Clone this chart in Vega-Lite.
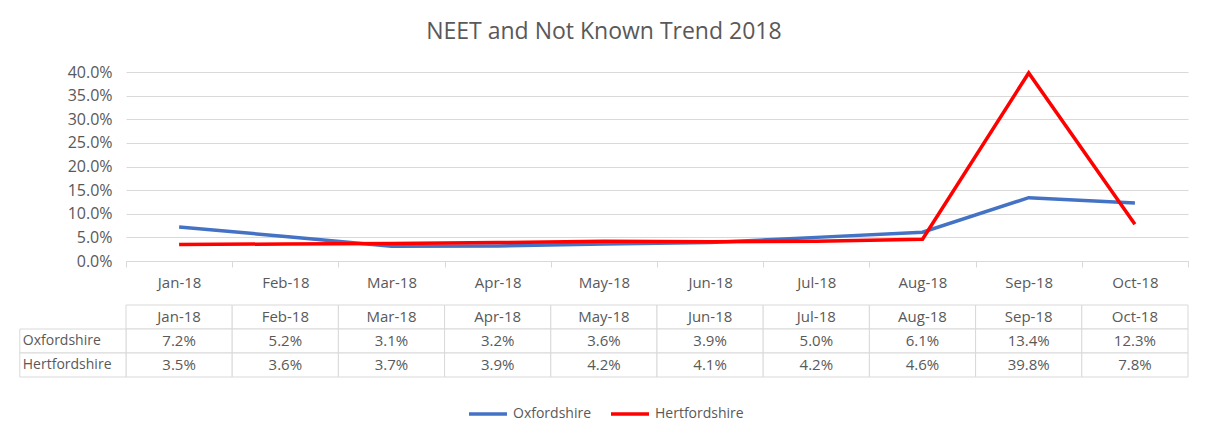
{
  "$schema": "https://vega.github.io/schema/vega-lite/v6.json",
  "padding": {"left": 19, "top": 21, "right": 15, "bottom": 10},
  "title": {"text": "NEET and Not Known Trend 2018", "fontSize": 23, "font": "Open Sans", "fontWeight": "normal", "color": "#595959", "anchor": "middle", "offset": 20},
  "datasets": {
    "trend": [
      {"month": "Jan-18", "series": "Oxfordshire", "value": 0.072},
      {"month": "Feb-18", "series": "Oxfordshire", "value": 0.052},
      {"month": "Mar-18", "series": "Oxfordshire", "value": 0.031},
      {"month": "Apr-18", "series": "Oxfordshire", "value": 0.032},
      {"month": "May-18", "series": "Oxfordshire", "value": 0.036},
      {"month": "Jun-18", "series": "Oxfordshire", "value": 0.039},
      {"month": "Jul-18", "series": "Oxfordshire", "value": 0.050},
      {"month": "Aug-18", "series": "Oxfordshire", "value": 0.061},
      {"month": "Sep-18", "series": "Oxfordshire", "value": 0.134},
      {"month": "Oct-18", "series": "Oxfordshire", "value": 0.123},
      {"month": "Jan-18", "series": "Hertfordshire", "value": 0.035},
      {"month": "Feb-18", "series": "Hertfordshire", "value": 0.036},
      {"month": "Mar-18", "series": "Hertfordshire", "value": 0.037},
      {"month": "Apr-18", "series": "Hertfordshire", "value": 0.039},
      {"month": "May-18", "series": "Hertfordshire", "value": 0.042},
      {"month": "Jun-18", "series": "Hertfordshire", "value": 0.041},
      {"month": "Jul-18", "series": "Hertfordshire", "value": 0.042},
      {"month": "Aug-18", "series": "Hertfordshire", "value": 0.046},
      {"month": "Sep-18", "series": "Hertfordshire", "value": 0.398},
      {"month": "Oct-18", "series": "Hertfordshire", "value": 0.078}
    ]
  },
  "spacing": 14,
  "resolve": {"scale": {"x": "independent", "y": "independent", "color": "shared"}},
  "vconcat": [
    {
      "width": 1062,
      "height": 189,
      "data": {"name": "trend"},
      "mark": {"type": "line", "strokeWidth": 3.5},
      "encoding": {
        "x": {
          "field": "month", "type": "ordinal", "sort": null,
          "scale": {"type": "band", "paddingInner": 0, "paddingOuter": 0,
            "domain": ["Jan-18","Feb-18","Mar-18","Apr-18","May-18","Jun-18","Jul-18","Aug-18","Sep-18","Oct-18"]},
          "axis": {"title": null, "labelAngle": 0, "tickBand": "extent", "domainColor": "#d9d9d9", "tickColor": "#d9d9d9", "tickSize": 6, "labelColor": "#595959", "labelFontSize": 15, "labelPadding": 8, "grid": false}
        },
        "y": {
          "field": "value", "type": "quantitative",
          "scale": {"domain": [0, 0.4]},
          "axis": {"title": null, "format": ".1%", "values": [0, 0.05, 0.1, 0.15, 0.2, 0.25, 0.3, 0.35, 0.4], "domain": false, "ticks": false, "gridColor": "#d9d9d9", "labelColor": "#595959", "labelFontSize": 16, "labelPadding": 14}
        },
        "color": {
          "field": "series", "type": "nominal",
          "scale": {"domain": ["Oxfordshire", "Hertfordshire"], "range": ["#4472C4", "#FF0000"]},
          "legend": {"title": null, "orient": "none", "legendX": 341, "legendY": 321, "direction": "horizontal", "symbolType": "stroke", "symbolSize": 1444, "symbolStrokeWidth": 3.5, "labelFontSize": 14, "labelColor": "#595959", "columnPadding": 12, "labelOffset": 4}
        }
      }
    },
    {
      "width": 1062,
      "height": 72,
      "data": {"name": "trend"},
      "encoding": {
        "x": {
          "field": "month", "type": "ordinal",
          "scale": {"type": "band", "paddingInner": 0, "paddingOuter": 0, "range": [-106.2, 1062],
            "domain": ["label","Jan-18","Feb-18","Mar-18","Apr-18","May-18","Jun-18","Jul-18","Aug-18","Sep-18","Oct-18"]},
          "axis": null
        }
      },
      "layer": [
        {
          "transform": [{"aggregate": [], "groupby": ["month"]}],
          "mark": {"type": "rect", "fill": "white", "stroke": "#d9d9d9", "strokeWidth": 1},
          "encoding": {
            "y": {"datum": "hdr", "type": "ordinal", "scale": {"type": "band", "paddingInner": 0, "paddingOuter": 0, "domain": ["hdr", "Oxfordshire", "Hertfordshire"]}, "axis": null}
          }
        },
        {
          "transform": [{"aggregate": [], "groupby": ["month"]}],
          "mark": {"type": "text", "fontSize": 15, "color": "#595959"},
          "encoding": {
            "y": {"datum": "hdr", "type": "ordinal"},
            "text": {"field": "month"}
          }
        },
        {
          "mark": {"type": "rect", "fill": "white", "stroke": "#d9d9d9", "strokeWidth": 1},
          "encoding": {
            "y": {"field": "series", "type": "ordinal"}
          }
        },
        {
          "mark": {"type": "text", "fontSize": 15, "color": "#595959"},
          "encoding": {
            "y": {"field": "series", "type": "ordinal"},
            "text": {"field": "value", "format": ".1%"}
          }
        },
        {
          "transform": [{"aggregate": [], "groupby": ["series"]}],
          "mark": {"type": "rect", "fill": "white", "stroke": "#d9d9d9", "strokeWidth": 1},
          "encoding": {
            "x": {"datum": "label", "type": "ordinal"},
            "y": {"field": "series", "type": "ordinal"}
          }
        },
        {
          "transform": [{"aggregate": [], "groupby": ["series"]}],
          "mark": {"type": "text", "fontSize": 14, "color": "#595959", "align": "left", "dx": 3},
          "encoding": {
            "x": {"datum": "label", "type": "ordinal", "bandPosition": 0},
            "y": {"field": "series", "type": "ordinal"},
            "text": {"field": "series"}
          }
        }
      ]
    }
  ],
  "config": {"view": {"stroke": null}, "font": "Open Sans"}
}
